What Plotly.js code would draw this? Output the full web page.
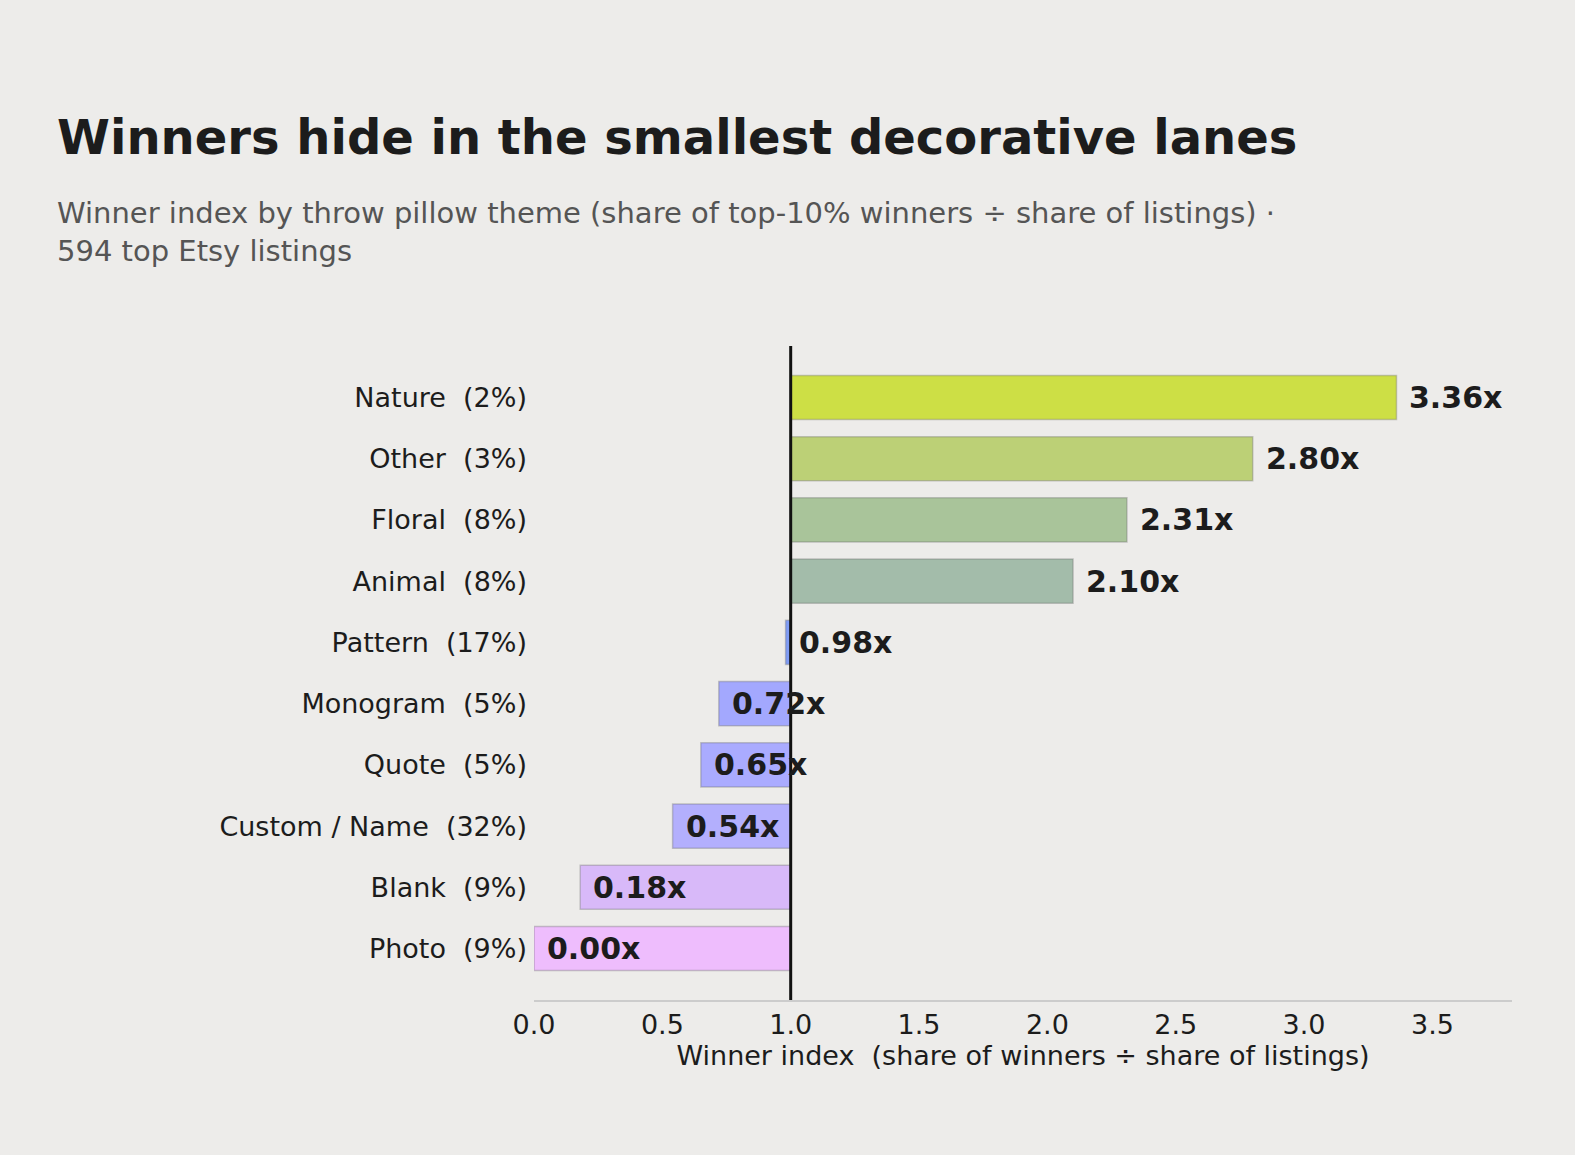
<!DOCTYPE html>
<html>
<head>
<meta charset="utf-8">
<script src="https://cdn.plot.ly/plotly-3.0.1.min.js"></script>
<style>html,body{margin:0;padding:0;background:#edecea;}#chart{width:1575px;height:1155px;}</style>
</head>
<body>
<div id="chart"></div>
<script>
const themes = ["Nature", "Other", "Floral", "Animal", "Pattern", "Monogram", "Quote", "Custom / Name", "Blank", "Photo"];
const listingShares = [2, 3, 8, 8, 17, 5, 5, 32, 9, 9];
const winnerIndex = [3.36, 2.80, 2.31, 2.10, 0.98, 0.72, 0.65, 0.54, 0.18, 0.00];
const barColors = ["#cddf45", "#bcd076", "#a9c49a", "#a3bcaa", "#7f9cf5", "#a3a8fe", "#aaabff", "#b3affd", "#d8b9f9", "#eebdfd"];
const xTicks = [0, 0.5, 1, 1.5, 2, 2.5, 3, 3.5];
const baseline = 1.0;

const NB = "\u00a0";
const labels = themes.map((t, i) => t + NB + NB + "(" + listingShares[i] + "%)");
const font = "DejaVu Sans, Verdana, sans-serif";

const trace = {
  type: "bar",
  orientation: "h",
  y: labels,
  x: winnerIndex.map(v => v - baseline),
  base: winnerIndex.map(() => baseline),
  width: 0.72,
  marker: {color: barColors, line: {color: "rgba(110,110,110,0.35)", width: 1.5}},
  hoverinfo: "skip"
};

const annotations = winnerIndex.map((v, i) => ({
  x: v, y: labels[i], xref: "x", yref: "y",
  text: v.toFixed(2) + "x", showarrow: false,
  xanchor: "left", yanchor: "middle", xshift: 11,
  font: {family: font, size: 30, color: "#1c1c1c", weight: "bold"}
}));

annotations.push({
  xref: "paper", yref: "paper", x: (55 - 534) / 978, y: (1000 - 137) / 654,
  xanchor: "left", yanchor: "middle", showarrow: false,
  text: "<b>Winners hide in the smallest decorative lanes</b>",
  font: {family: font, size: 48, color: "#1c1c1c"}
});
annotations.push({
  xref: "paper", yref: "paper", x: (55 - 534) / 978, y: (1000 - 232) / 654,
  xanchor: "left", yanchor: "middle", align: "left", showarrow: false,
  text: "Winner index by throw pillow theme (share of top-10% winners ÷ share of listings) ·<br>594 top Etsy listings",
  font: {family: font, size: 29, color: "#555555"}
});

const layout = {
  width: 1575, height: 1155,
  paper_bgcolor: "#edecea", plot_bgcolor: "#edecea",
  margin: {l: 534, r: 63, t: 346, b: 155, pad: 0},
  showlegend: false,
  font: {family: font, color: "#1c1c1c", size: 27},
  xaxis: {
    range: [0, 3.81], tickvals: xTicks, tickformat: ".1f",
    showgrid: false, zeroline: false, showline: true, linecolor: "#cccccc", linewidth: 2,
    ticks: "", ticklen: 0, tickfont: {size: 27, color: "#1c1c1c"},
    title: {text: "Winner index" + NB + NB + "(share of winners ÷ share of listings)", font: {size: 27, color: "#1c1c1c"}, standoff: 4},
    fixedrange: true
  },
  yaxis: {
    type: "category", categoryorder: "array", categoryarray: labels,
    range: [9.84, -0.84], showgrid: false, zeroline: false, showline: false,
    ticks: "", tickfont: {size: 27, color: "#1c1c1c"}, ticklabelstandoff: 6,
    fixedrange: true
  },
  shapes: [{
    type: "line", xref: "x", yref: "paper", x0: baseline, x1: baseline, y0: 0, y1: 1,
    line: {color: "#111111", width: 3}, layer: "above"
  }],
  annotations: annotations,
  bargap: 0.28
};

Plotly.newPlot("chart", [trace], layout, {displayModeBar: false, staticPlot: true});
</script>
</body>
</html>
